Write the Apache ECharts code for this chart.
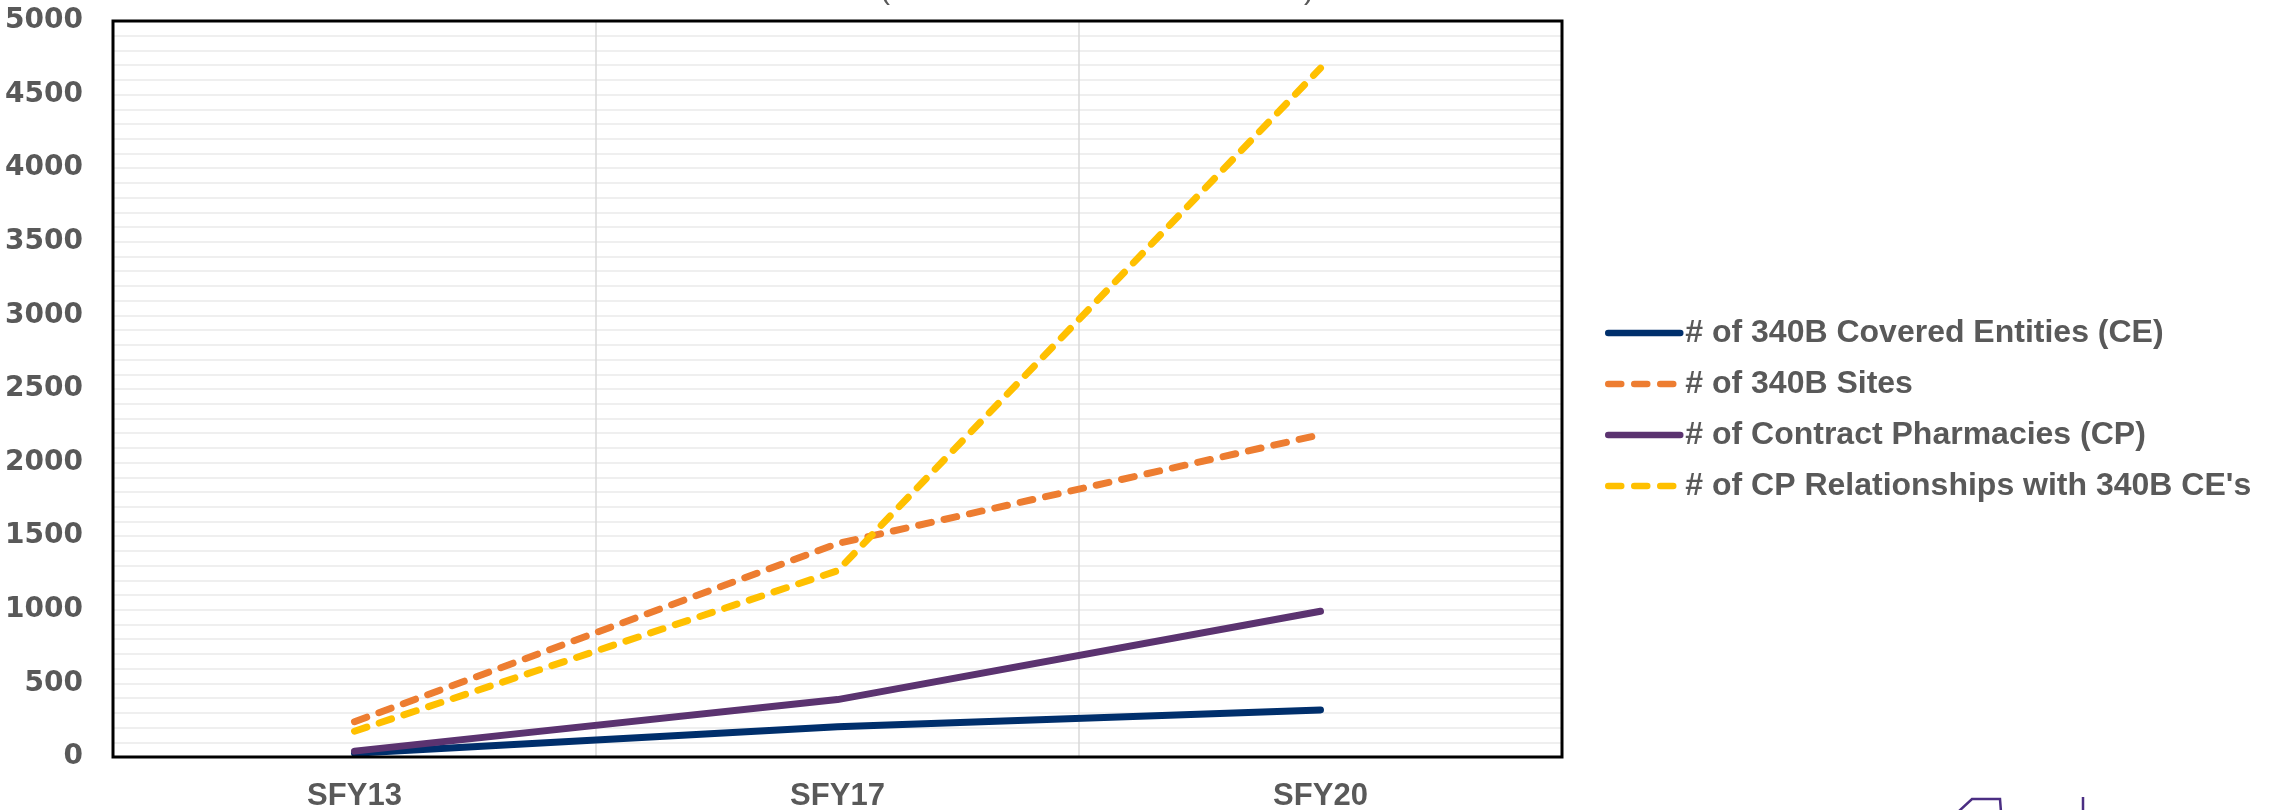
<!DOCTYPE html>
<html>
<head>
<meta charset="utf-8">
<script src="https://cdn.jsdelivr.net/npm/echarts@6/dist/echarts.min.js"></script>
<style>html,body{margin:0;padding:0;background:#fff}#c{width:2272px;height:810px}</style>
</head>
<body>
<div id="c"></div>
<script>
const categories = ['SFY13', 'SFY17', 'SFY20'];
const coveredEntities = [25, 205, 320];
const sites340B = [240, 1450, 2190];
const contractPharmacies = [40, 390, 990];
const cpRelationships = [175, 1265, 4680];
const seriesNames = [
  '# of 340B Covered Entities (CE)',
  '# of 340B Sites',
  '# of Contract Pharmacies (CP)',
  "# of CP Relationships with 340B CE's"
];

const font = '"Liberation Sans", Arial, sans-serif';
const chart = echarts.init(document.getElementById('c'));
function line(name, data, color, dashed) {
  return {
    name, type: 'line', data, symbol: 'none', showSymbol: false, smooth: false,
    lineStyle: { color, width: 7, cap: 'round', join: 'round', type: dashed ? [13, 13] : 'solid' },
    itemStyle: { color }
  };
}
chart.setOption({
  animation: false,
  backgroundColor: '#fff',
  grid: { left: 113, right: 710, top: 21, bottom: 53, show: true, borderColor: '#000', borderWidth: 3, z: 5,
          outerBoundsMode: 'none', containLabel: false },
  legend: {
    orient: 'vertical', left: 1600, top: 312, itemWidth: 72, itemHeight: 14, itemGap: 19,
    itemStyle: { color: 'rgba(0,0,0,0)', borderWidth: 0, opacity: 0 },
    lineStyle: { width: 6.5, cap: 'round' },
    textStyle: { fontFamily: font, fontWeight: 'bold', fontSize: 32, color: '#595959', lineHeight: 32 },
    data: seriesNames
  },
  xAxis: {
    type: 'category', data: categories, boundaryGap: true,
    axisLine: { show: false }, axisTick: { show: false },
    axisLabel: { fontFamily: font, fontWeight: 'bold', fontSize: 31, color: '#595959', margin: 24 },
    splitLine: { show: true, lineStyle: { color: '#d9d9d9', width: 1.5 } }
  },
  yAxis: {
    type: 'value', min: 0, max: 5000, interval: 500,
    axisLine: { show: false }, axisTick: { show: false },
    axisLabel: { fontFamily: '"DejaVu Sans", sans-serif', fontWeight: 'bold', fontSize: 28, color: '#595959', margin: 30,
                 formatter: v => String(v) },
    splitLine: { show: true, lineStyle: { color: '#efefef', width: 2 } },
    minorTick: { show: false, splitNumber: 5 },
    minorSplitLine: { show: true, lineStyle: { color: '#efefef', width: 2 } }
  },
  series: [
    line(seriesNames[0], coveredEntities, '#002f6c', false),
    line(seriesNames[1], sites340B, '#ed7d31', true),
    line(seriesNames[2], contractPharmacies, '#5b3370', false),
    line(seriesNames[3], cpRelationships, '#ffc000', true)
  ],
  graphic: [
    { type: 'text', left: 880, top: -24, style: { text: '(', fontFamily: font, fontSize: 30, fill: '#595959' } },
    { type: 'text', left: 1304, top: -24, style: { text: ')', fontFamily: font, fontSize: 30, fill: '#595959' } },
    { type: 'polyline', shape: { points: [[1958, 812], [1972, 799], [2000, 799], [2001, 812]] }, style: { stroke: '#4b2e83', lineWidth: 2.5, fill: null } },
    { type: 'line', shape: { x1: 2083, y1: 797, x2: 2083, y2: 812 }, style: { stroke: '#4b2e83', lineWidth: 2.5 } }
  ]
});
</script>
</body>
</html>
